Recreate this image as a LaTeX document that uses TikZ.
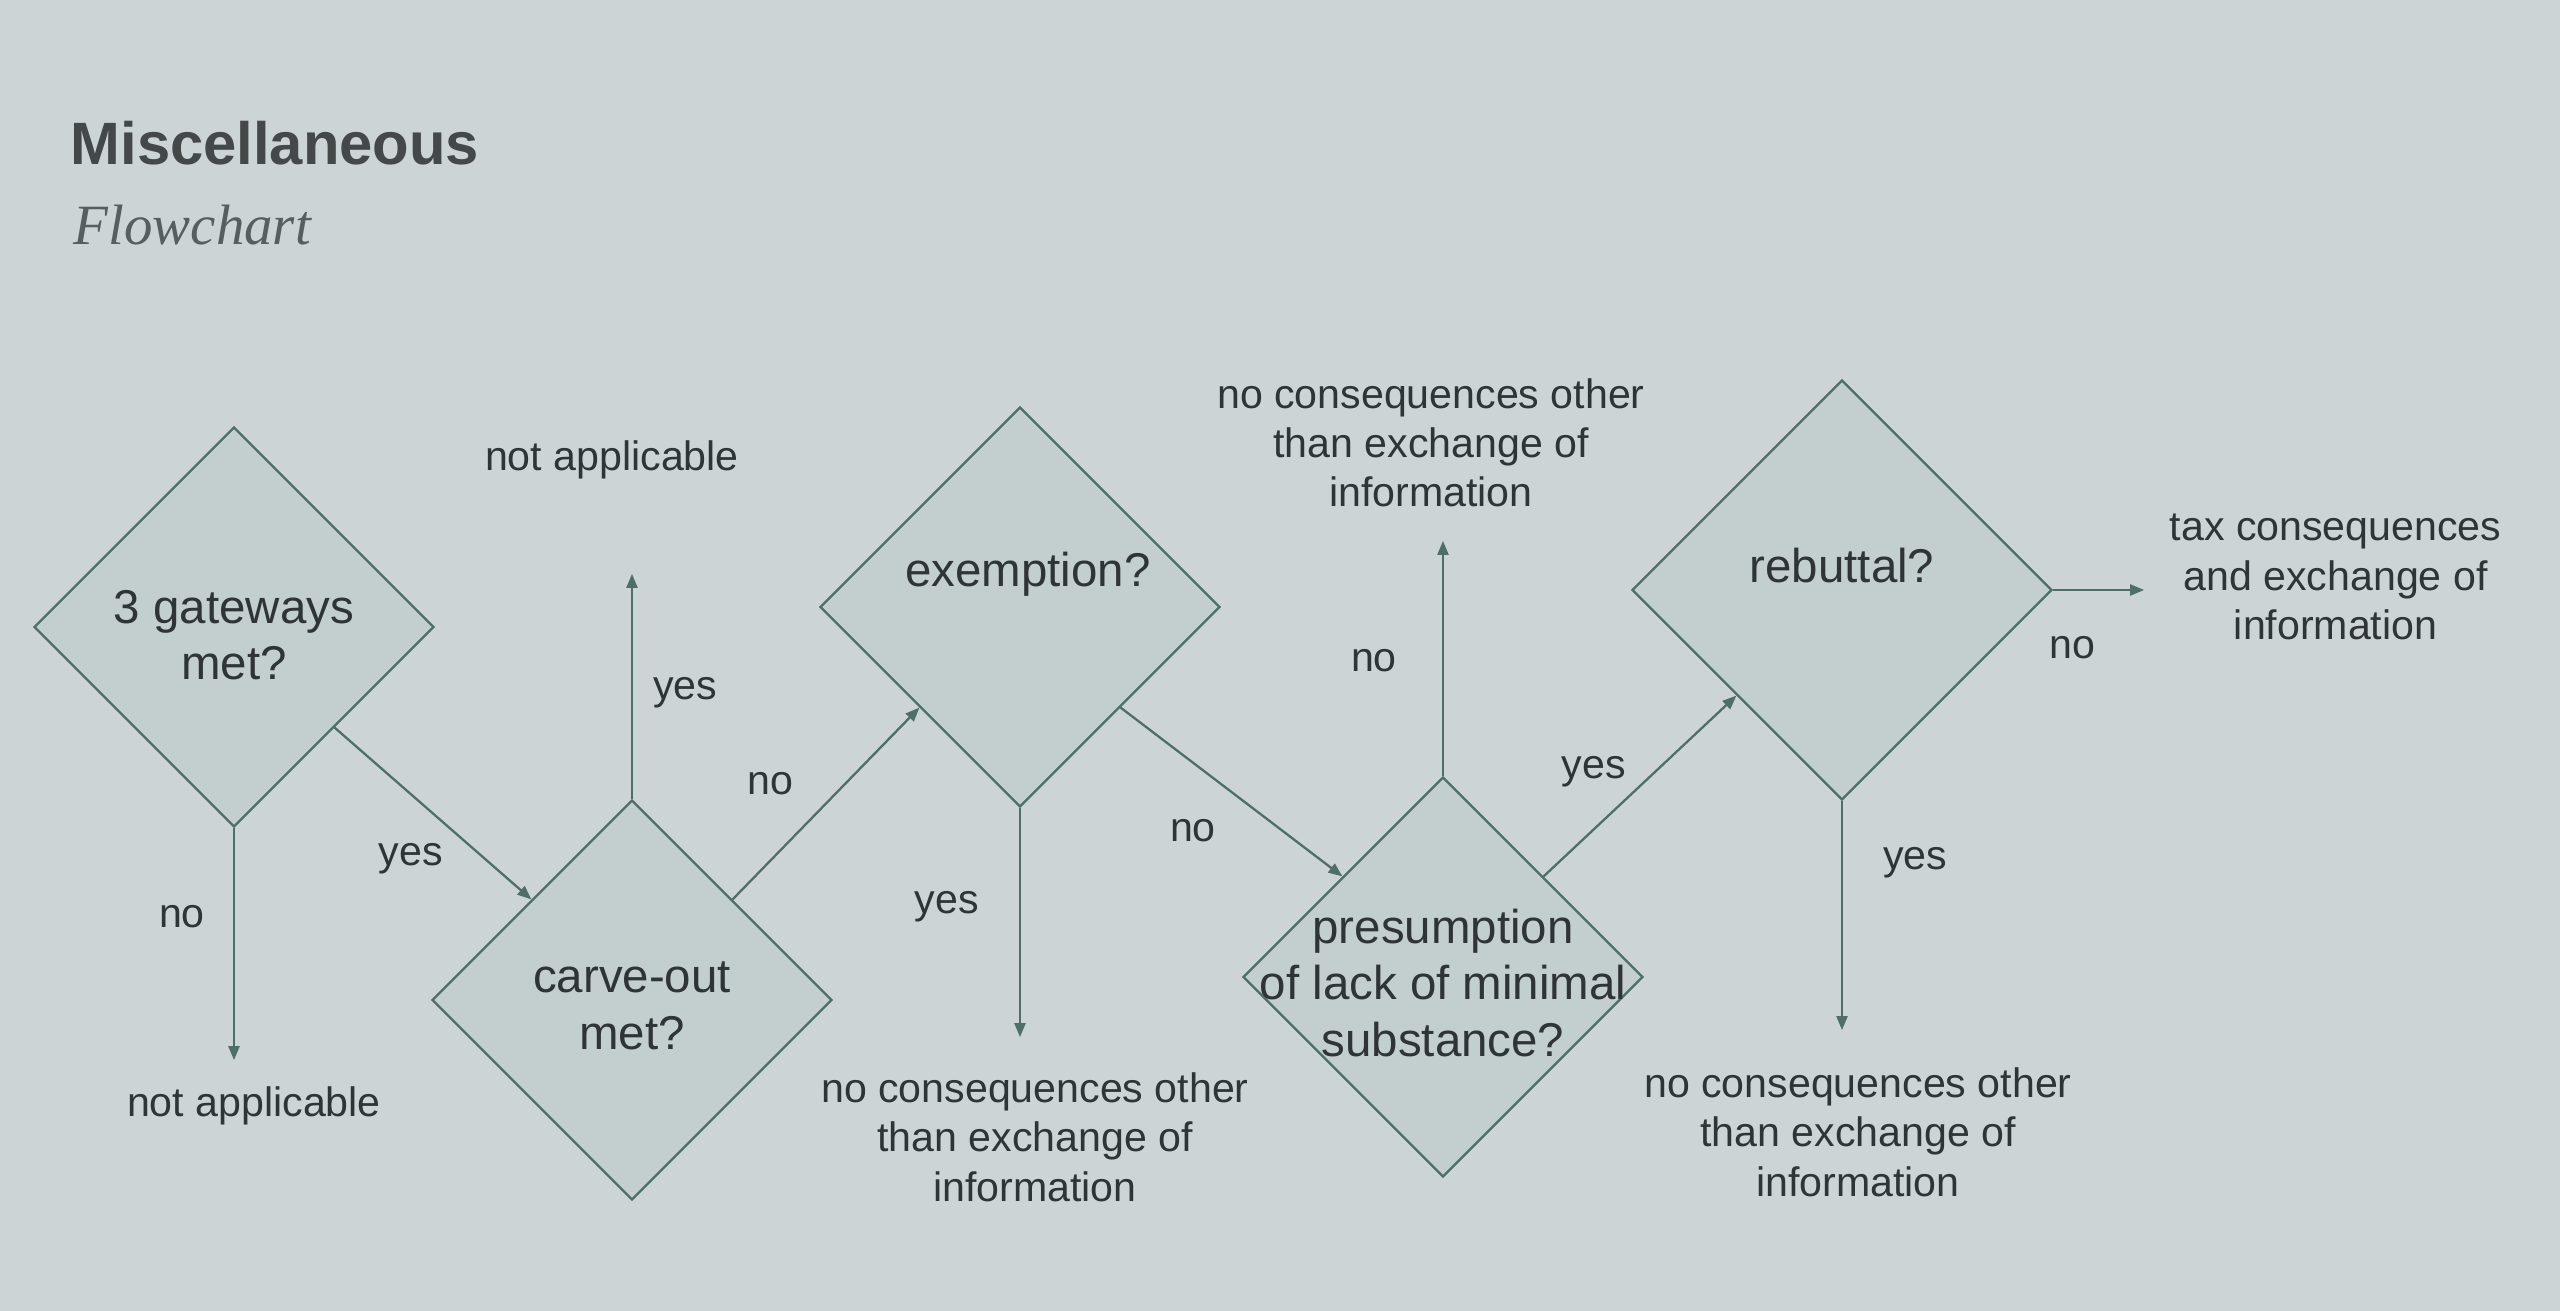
\documentclass[tikz,border=0pt]{standalone}
\usepackage{fontspec}
\setmainfont{Liberation Sans}
\newfontfamily\titleserif{Liberation Serif}
\usetikzlibrary{shapes.geometric, arrows.meta, positioning}

\definecolor{paper}{HTML}{CDD4D6}
\definecolor{diafill}{HTML}{C3CECF}
\definecolor{flowline}{HTML}{4E6F68}
\definecolor{ink}{HTML}{2F3434}

\begin{document}
\begin{tikzpicture}[
        decision/.style = {
            diamond,
            draw=flowline,
            fill=diafill,
            line width=0.65pt,
            aspect=1,
            inner sep=0pt,
            minimum width=4cm,
            minimum height=4cm
        },
        question/.style = {
            align = center,
            text = ink,
            inner sep=0pt,
            font = \fontsize{13.5}{16}\selectfont
        },
        outcome/.style = {
            align = center,
            text = ink,
            inner sep=0pt,
            font = \fontsize{11.7}{14}\selectfont
        },
        answer/.style = {
            text = ink,
            inner sep=0pt,
            font = \fontsize{11.7}{14}\selectfont
        },
        flow/.style = {
            draw=flowline,
            line width=0.65pt,
            -{Triangle[length=1.4mm, width=1.1mm]}
        }]

        \fill[paper] (0,0) rectangle (25.6,-13.11);
        \useasboundingbox (0,0) rectangle (25.6,-13.11);

        \node (title) [anchor=base west, inner sep=0pt, text=ink!90, font=\fontsize{17}{20}\selectfont\bfseries] at (0.70,-1.65) {Miscellaneous};
        \node (subtitle) [anchor=base west, inner sep=0pt, text=ink!80, font=\fontsize{16.2}{19}\selectfont\titleserif\itshape] at (0.73,-2.45) {Flowchart};

        \node (gateways) [decision] at (2.34,-6.27) {};
        \node (carveout) [decision] at (6.32,-10.00) {};
        \node (exemption) [decision] at (10.20,-6.07) {};
        \node (presumption) [decision] at (14.43,-9.77) {};
        \node (rebuttal) [decision, minimum width=4.2cm, minimum height=4.2cm] at (18.42,-5.90) {};

        \node (gateways_q) [question, yshift=-0.08cm] at (gateways) {3 gateways\\met?};
        \node (carveout_q) [question, yshift=-0.06cm] at (carveout) {carve-out\\met?};
        \node (exemption_q) [question, yshift=0.33cm, xshift=0.08cm] at (exemption) {exemption?};
        \node (presumption_q) [question, yshift=-0.06cm] at (presumption) {presumption\\of lack of minimal\\substance?};
        \node (rebuttal_q) [question, yshift=0.24cm] at (rebuttal) {rebuttal?};

        \coordinate[below=2.32cm of gateways.south] (gateways_end);
        \coordinate[above=2.25cm of carveout.north] (carveout_end);
        \coordinate[below=2.29cm of exemption.south] (exemption_end);
        \coordinate[above=2.35cm of presumption.north] (presumption_end);
        \coordinate[below=2.29cm of rebuttal.south] (rebuttal_end);
        \coordinate[right=0.91cm of rebuttal.east] (rebuttal_side);

        \node (na_low) [outcome, below=0.26cm of gateways_end, xshift=0.2cm] {not applicable};
        \node (na_high) [outcome, above=0.94cm of carveout_end, xshift=-0.2cm] {not applicable};
        \node (info_low) [outcome, below=0.35cm of exemption_end, xshift=0.15cm] {no consequences other\\than exchange of\\information};
        \node (info_high) [outcome, above=0.33cm of presumption_end, xshift=-0.12cm] {no consequences other\\than exchange of\\information};
        \node (info_last) [outcome, below=0.37cm of rebuttal_end, xshift=0.16cm] {no consequences other\\than exchange of\\information};
        \node (tax) [outcome, right=0.25cm of rebuttal_side, yshift=0.13cm] {tax consequences\\and exchange of\\information};

        \draw[flow] (gateways.south) -- (gateways_end) node[answer, pos=0.38, left=0.28cm] {no};
        \draw[flow] (gateways.south east) -- (carveout.north west) node[answer, pos=0.55, xshift=-0.32cm, yshift=-0.37cm] {yes};
        \draw[flow] (carveout.north) -- (carveout_end) node[answer, pos=0.47, right=0.2cm] {yes};
        \draw[flow] (carveout.north east) -- (exemption.south west) node[answer, pos=0.41, xshift=-0.39cm, yshift=0.37cm] {no};
        \draw[flow] (exemption.south) -- (exemption_end) node[answer, pos=0.43, left=0.4cm] {yes};
        \draw[flow] (exemption.south east) -- (presumption.north west) node[answer, pos=0.475, xshift=-0.33cm, yshift=-0.43cm] {no};
        \draw[flow] (presumption.north) -- (presumption_end) node[answer, pos=0.49, left=0.45cm] {no};
        \draw[flow] (presumption.north east) -- (rebuttal.south west) node[answer, pos=0.41, xshift=-0.29cm, yshift=0.31cm] {yes};
        \draw[flow] (rebuttal.east) -- (rebuttal_side) node[answer, pos=0.21, below=0.45cm] {no};
        \draw[flow] (rebuttal.south) -- (rebuttal_end) node[answer, pos=0.27, right=0.4cm] {yes};
    \end{tikzpicture}
\end{document}
